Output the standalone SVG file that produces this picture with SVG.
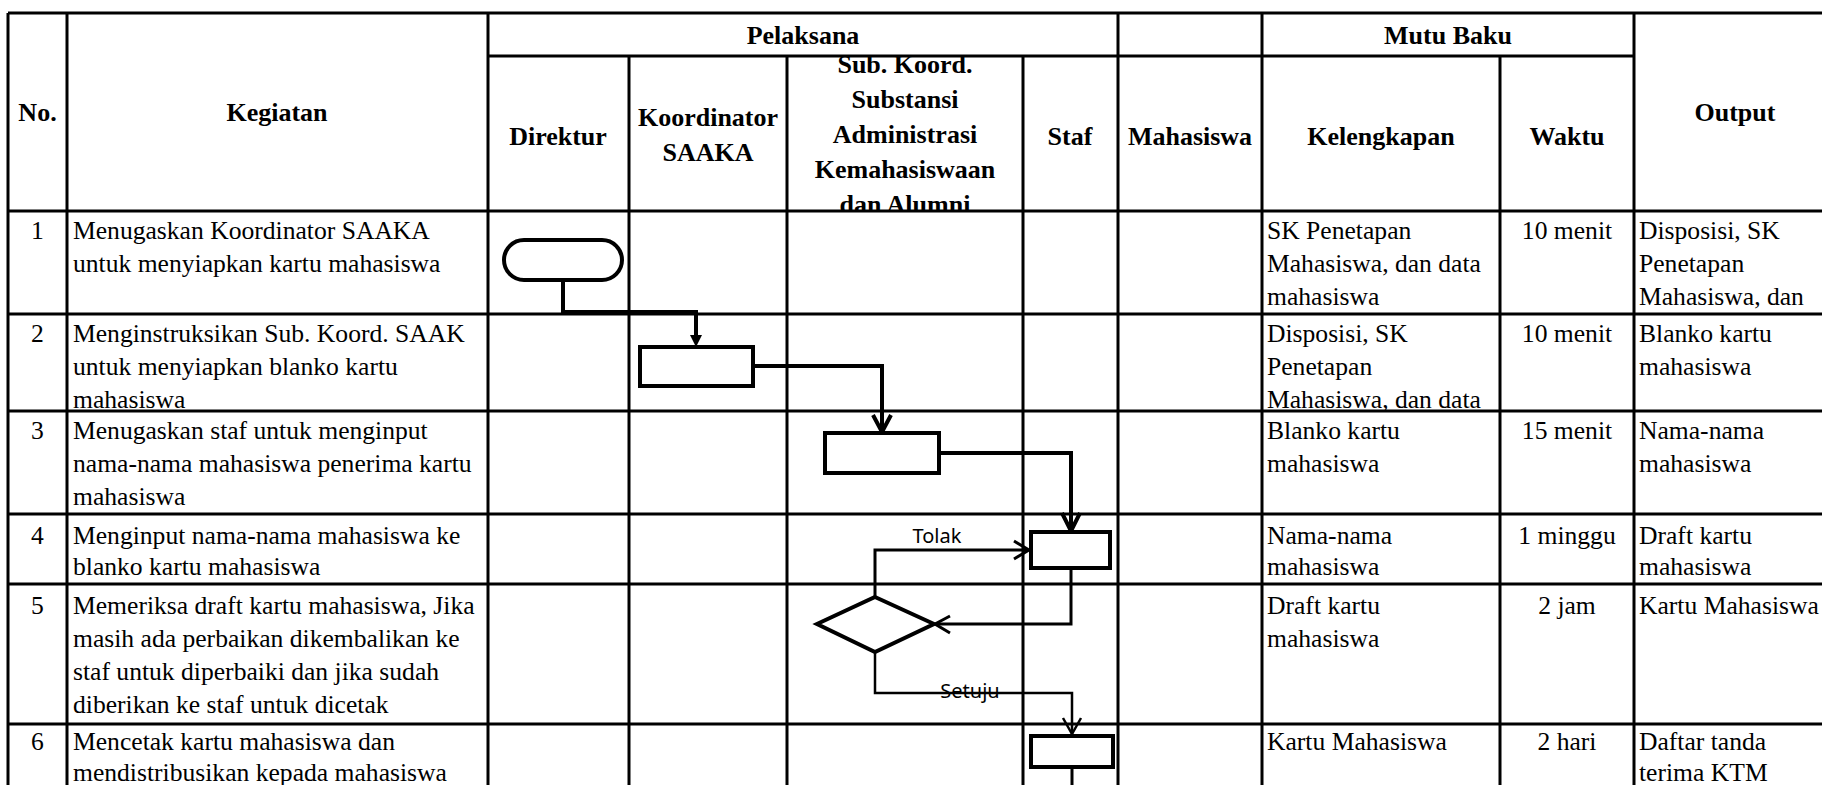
<svg xmlns="http://www.w3.org/2000/svg" width="1822" height="785" viewBox="0 0 1822 785">
<style>
.g{stroke:#000;stroke-width:3;fill:none}
.h{font-family:"Liberation Serif","Times New Roman",serif;font-size:26px;font-weight:bold;fill:#000;text-anchor:middle}
.t{font-family:"Liberation Serif","Times New Roman",serif;font-size:25.6px;fill:#000}
.c{text-anchor:middle}
.n{stroke:#000;stroke-width:4;fill:#fff}
.k{stroke:#000;fill:none}
.lbl{font-family:"Noto Sans","Open Sans",sans-serif;font-size:20px;fill:#000;text-anchor:middle}
</style>
<defs>
<clipPath id="hdrclip"><rect x="787" y="56" width="236" height="155"/></clipPath>
</defs>
<rect width="1822" height="785" fill="#fff"/>

<g id="header-text">
<text class="h" x="37.5" y="121">No.</text>
<text class="h" x="277" y="121">Kegiatan</text>
<text class="h" x="803" y="44">Pelaksana</text>
<text class="h" x="1448" y="44">Mutu Baku</text>
<text class="h" x="558" y="145">Direktur</text>
<text class="h" x="708" y="126">Koordinator</text>
<text class="h" x="708" y="161">SAAKA</text>
<g clip-path="url(#hdrclip)">
<text class="h" x="905" y="72.5">Sub. Koord.</text>
<text class="h" x="905" y="107.5">Substansi</text>
<text class="h" x="905" y="142.5">Administrasi</text>
<text class="h" x="905" y="177.5">Kemahasiswaan</text>
<text class="h" x="905" y="212.5">dan Alumni</text>
</g>
<text class="h" x="1070" y="145">Staf</text>
<text class="h" x="1190" y="145">Mahasiswa</text>
<text class="h" x="1381" y="145">Kelengkapan</text>
<text class="h" x="1567" y="145">Waktu</text>
<text class="h" x="1735" y="121">Output</text>
</g>

<g id="row-text">
<text class="t c" x="37.5" y="239">1</text>
<text class="t" x="73" y="239">Menugaskan Koordinator SAAKA</text>
<text class="t" x="73" y="272">untuk menyiapkan kartu mahasiswa</text>
<text class="t" x="1267" y="239">SK Penetapan</text>
<text class="t" x="1267" y="272">Mahasiswa, dan data</text>
<text class="t" x="1267" y="305">mahasiswa</text>
<text class="t c" x="1567" y="239">10 menit</text>
<text class="t" x="1639" y="239">Disposisi, SK</text>
<text class="t" x="1639" y="272">Penetapan</text>
<text class="t" x="1639" y="305">Mahasiswa, dan</text>

<text class="t c" x="37.5" y="342">2</text>
<text class="t" x="73" y="342">Menginstruksikan Sub. Koord. SAAK</text>
<text class="t" x="73" y="375">untuk menyiapkan blanko kartu</text>
<text class="t" x="73" y="408">mahasiswa</text>
<text class="t" x="1267" y="342">Disposisi, SK</text>
<text class="t" x="1267" y="375">Penetapan</text>
<text class="t" x="1267" y="408">Mahasiswa, dan data</text>
<text class="t c" x="1567" y="342">10 menit</text>
<text class="t" x="1639" y="342">Blanko kartu</text>
<text class="t" x="1639" y="375">mahasiswa</text>

<text class="t c" x="37.5" y="439">3</text>
<text class="t" x="73" y="439">Menugaskan staf untuk menginput</text>
<text class="t" x="73" y="472">nama-nama mahasiswa penerima kartu</text>
<text class="t" x="73" y="505">mahasiswa</text>
<text class="t" x="1267" y="439">Blanko kartu</text>
<text class="t" x="1267" y="472">mahasiswa</text>
<text class="t c" x="1567" y="439">15 menit</text>
<text class="t" x="1639" y="439">Nama-nama</text>
<text class="t" x="1639" y="472">mahasiswa</text>

<text class="t c" x="37.5" y="544">4</text>
<text class="t" x="73" y="544">Menginput nama-nama mahasiswa ke</text>
<text class="t" x="73" y="575">blanko kartu mahasiswa</text>
<text class="t" x="1267" y="544">Nama-nama</text>
<text class="t" x="1267" y="575">mahasiswa</text>
<text class="t c" x="1567" y="544">1 minggu</text>
<text class="t" x="1639" y="544">Draft kartu</text>
<text class="t" x="1639" y="575">mahasiswa</text>

<text class="t c" x="37.5" y="614">5</text>
<text class="t" x="73" y="614">Memeriksa draft kartu mahasiswa, Jika</text>
<text class="t" x="73" y="647">masih ada perbaikan dikembalikan ke</text>
<text class="t" x="73" y="680">staf untuk diperbaiki dan jika sudah</text>
<text class="t" x="73" y="713">diberikan ke staf untuk dicetak</text>
<text class="t" x="1267" y="614">Draft kartu</text>
<text class="t" x="1267" y="647">mahasiswa</text>
<text class="t c" x="1567" y="614">2 jam</text>
<text class="t" x="1639" y="614">Kartu Mahasiswa</text>

<text class="t c" x="37.5" y="750">6</text>
<text class="t" x="73" y="750">Mencetak kartu mahasiswa dan</text>
<text class="t" x="73" y="781">mendistribusikan kepada mahasiswa</text>
<text class="t" x="1267" y="750">Kartu Mahasiswa</text>
<text class="t c" x="1567" y="750">2 hari</text>
<text class="t" x="1639" y="750">Daftar tanda</text>
<text class="t" x="1639" y="781">terima KTM</text>
</g>

<g id="grid" class="g">
<line x1="8" y1="13" x2="1822" y2="13"/>
<line x1="488" y1="56" x2="1634" y2="56"/>
<line x1="8" y1="211" x2="1822" y2="211"/>
<line x1="8" y1="314" x2="1822" y2="314"/>
<line x1="8" y1="411" x2="1822" y2="411"/>
<line x1="8" y1="514" x2="1822" y2="514"/>
<line x1="8" y1="584" x2="1822" y2="584"/>
<line x1="8" y1="724" x2="1822" y2="724"/>
<line x1="8" y1="13" x2="8" y2="785"/>
<line x1="67" y1="13" x2="67" y2="785"/>
<line x1="488" y1="13" x2="488" y2="785"/>
<line x1="629" y1="56" x2="629" y2="785"/>
<line x1="787" y1="56" x2="787" y2="785"/>
<line x1="1023" y1="56" x2="1023" y2="785"/>
<line x1="1118" y1="13" x2="1118" y2="785"/>
<line x1="1262" y1="13" x2="1262" y2="785"/>
<line x1="1500" y1="56" x2="1500" y2="785"/>
<line x1="1634" y1="13" x2="1634" y2="785"/>
</g>

<g id="connectors">
<path class="k" stroke-width="4" d="M563,280 V312 H696 V337"/>
<polygon points="690,335 702,335 696,347" fill="#000"/>
<path class="k" stroke-width="4" d="M753,366 H882 V431"/>
<path class="k" stroke-width="4" d="M873,415 L882,432 L891,415"/>
<path class="k" stroke-width="4" d="M939,453 H1071 V530"/>
<path class="k" stroke-width="4" d="M1062,513 L1071,531 L1080,513"/>
<path class="k" stroke-width="3" d="M1071,568 V624 H936"/>
<path class="k" stroke-width="3" d="M950,616 L935,624 L950,633"/>
<path class="k" stroke-width="3" d="M875,597 V550 H1028"/>
<path class="k" stroke-width="3" d="M1014,541 L1029,550 L1014,559"/>
<path class="k" stroke-width="2.5" d="M875,652 V693 H1072 V734"/>
<path class="k" stroke-width="2.5" d="M1063,718 L1072,734 L1081,718"/>
<path class="k" stroke-width="3" d="M1072,767 V785"/>
<text class="lbl" x="937" y="543">Tolak</text>
<text class="lbl" x="970" y="698">Setuju</text>
</g>

<g id="node-start"><rect class="n" x="504" y="240" width="118" height="40" rx="20"/></g>
<g id="node-2"><rect class="n" x="640" y="347" width="113" height="39"/></g>
<g id="node-3"><rect class="n" x="825" y="433" width="114" height="40"/></g>
<g id="node-4"><rect class="n" stroke-width="5" x="1031" y="532" width="79" height="36"/></g>
<g id="node-decision"><polygon class="n" points="875,597 934,624 875,652 817,624"/></g>
<g id="node-6"><rect class="n" stroke-width="5" x="1031" y="736" width="82" height="31"/></g>
</svg>
